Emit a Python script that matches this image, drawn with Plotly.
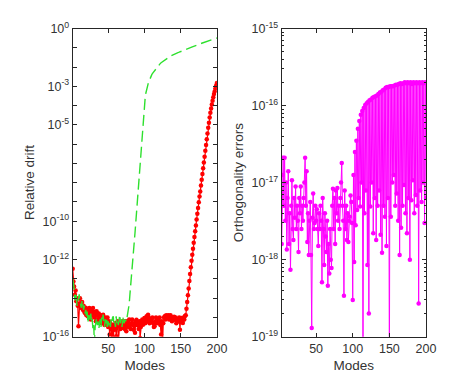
import plotly.graph_objects as go

# ---------------- data ----------------
modes = list(range(1, 201))
ortho_modes = list(range(3, 201))

drift_red = [
    3.4e-13, 7.4e-14, 4.1e-14, 1.5e-14, 2.5e-14, 6.9e-15, 1.0e-14, 4.0e-15, 3.5e-16, 5.0e-15,
    1.0e-14, 3.2e-15, 4.6e-15, 6.3e-15, 2.5e-15, 4.0e-15, 2.0e-15, 1.7e-15, 3.2e-15, 1.3e-15,
    2.5e-15, 1.15e-15, 2.0e-15, 3.1e-15, 1.6e-15, 7.9e-16, 2.5e-15, 1.3e-15, 3.1e-15, 1.6e-15,
    1.0e-15, 2.0e-15, 6.3e-16, 2.1e-15, 1.3e-15, 7.9e-16, 1.6e-15, 6.3e-16, 1.0e-15, 1.3e-15,
    5.0e-16, 1.0e-15, 1.4e-15, 6.3e-16, 4.0e-16, 1.0e-15, 5.0e-16, 7.6e-16, 1.0e-15, 3.2e-16,
    6.3e-16, 1.3e-16, 5.0e-16, 2.5e-16, 4.0e-17, 4.0e-16, 5.0e-17, 3.2e-16, 2.3e-16, 5.0e-16,
    1.05e-16, 3.2e-16, 6.3e-16, 5.0e-17, 4.0e-16, 5.1e-16, 2.5e-16, 5.0e-16, 3.2e-16, 6.3e-16,
    2.8e-16, 5.0e-16, 2.5e-16, 6.3e-16, 1.9e-16, 4.0e-16, 6.3e-16, 3.2e-16, 7.9e-16, 4.2e-16,
    2.5e-16, 5.0e-16, 7.9e-16, 4.0e-16, 2.3e-16, 5.0e-16, 1.6e-16, 6.3e-16, 7.6e-16, 4.0e-16,
    5.0e-16, 2.5e-16, 6.3e-16, 8.5e-17, 3.2e-16, 5.0e-16, 7.9e-16, 4.2e-16, 6.3e-16, 9.3e-16,
    5.0e-16, 7.9e-16, 1.15e-15, 6.3e-16, 1.4e-15, 1.0e-15, 5.0e-16, 7.9e-16, 6.3e-16, 7.6e-16,
    1.0e-15, 5.0e-16, 3.2e-16, 3.5e-16, 6.3e-16, 1.0e-15, 5.0e-16, 7.9e-16, 7.6e-16, 5.0e-16,
    1.0e-15, 4.0e-16, 1.3e-16, 6.3e-16, 4.0e-17, 5.0e-16, 1.0e-15, 1.15e-15, 7.9e-16, 1.3e-15,
    1.0e-15, 1.1e-15, 1.3e-15, 7.9e-16, 1.0e-15, 1.3e-15, 9.3e-16, 6.3e-16, 1.0e-15, 7.9e-16,
    1.1e-15, 7.6e-16, 1.0e-15, 5.0e-16, 7.9e-16, 6.3e-16, 6.3e-16, 1.0e-15, 2.3e-16, 7.9e-16,
    9.3e-16, 6.3e-16, 5.1e-16, 1.0e-15, 7.9e-16, 1.2e-15, 1.3e-15, 2.8e-15, 6.3e-15, 1.4e-14,
    3.2e-14, 7.9e-14, 1.8e-13, 4.0e-13, 8.9e-13, 1.8e-12, 3.7e-12, 7.6e-12, 1.5e-11, 3.0e-11,
    6.0e-11, 1.2e-10, 2.4e-10, 4.8e-10, 9.5e-10, 1.9e-9, 3.5e-9, 7.1e-9, 1.4e-8, 2.8e-8,
    5.6e-8, 1.1e-7, 2.2e-7, 4.5e-7, 8.9e-7, 1.8e-6, 3.5e-6, 7.1e-6, 1.3e-5, 2.4e-5,
    4.2e-5, 7.1e-5, 1.15e-4, 1.8e-4, 2.7e-4, 4.0e-4, 5.6e-4, 7.9e-4, 1.1e-3, 1.5e-3,
]

drift_green = [
    1.0e-13, 6.3e-14, 3.2e-14, 7.9e-15, 2.0e-14, 1.3e-14, 4.0e-15, 5.0e-15, 1.0e-14, 1.6e-14,
    6.3e-15, 3.2e-15, 3.2e-15, 7.9e-15, 5.6e-15, 2.5e-15, 4.0e-15, 1.6e-15, 2.5e-15, 1.0e-15,
    2.0e-15, 5.0e-16, 1.3e-15, 1.15e-15, 6.3e-16, 1.6e-15, 5.0e-16, 7.9e-16, 2.3e-16, 4.0e-16,
    4.7e-17, 3.2e-16, 7.9e-16, 9.3e-16, 4.0e-16, 6.3e-16, 2.5e-16, 4.2e-16, 7.9e-16, 3.2e-16,
    1.0e-15, 6.3e-16, 1.4e-15, 5.0e-16, 3.2e-16, 7.9e-16, 4.0e-16, 7.6e-16, 2.5e-16, 6.3e-16,
    4.0e-16, 6.3e-16, 3.2e-16, 7.9e-16, 5.0e-16, 1.0e-15, 1.15e-15, 4.0e-16, 6.3e-16, 3.2e-16,
    1.15e-15, 5.0e-16, 7.9e-16, 4.0e-16, 1.0e-15, 1.4e-15, 5.0e-16, 7.9e-16, 3.2e-16, 1.0e-15,
    1.15e-15, 5.0e-16, 7.9e-16, 6.3e-16, 1.15e-15, 1.0e-15, 1.6e-15, 2.5e-15, 5.0e-15, 1.6e-14,
    4.0e-14, 1.0e-13, 3.2e-13, 1.0e-12, 2.5e-12, 7.9e-12, 2.5e-11, 7.9e-11, 2.5e-10, 7.9e-10,
    2.5e-9, 7.9e-9, 2.5e-8, 7.9e-8, 3.2e-7, 1.3e-6, 5.0e-6, 1.6e-5, 5.0e-5, 1.3e-4,
    2.5e-4, 4.5e-4, 7.1e-4, 1.0e-3, 1.3e-3, 1.7e-3, 2.2e-3, 2.8e-3, 3.3e-3, 3.9e-3,
    4.6e-3, 5.2e-3, 6.0e-3, 6.8e-3, 7.6e-3, 8.5e-3, 9.5e-3, 1.07e-2, 1.2e-2, 1.35e-2,
    1.45e-2, 1.55e-2, 1.66e-2, 1.78e-2, 1.9e-2, 2.04e-2, 2.19e-2, 2.34e-2, 2.45e-2, 2.63e-2,
    2.75e-2, 2.95e-2, 3.09e-2, 3.31e-2, 3.47e-2, 3.63e-2, 3.89e-2, 4.07e-2, 4.27e-2, 4.47e-2,
    4.6e-2, 4.8e-2, 5.0e-2, 5.1e-2, 5.4e-2, 5.5e-2, 5.8e-2, 5.9e-2, 6.2e-2, 6.4e-2,
    6.6e-2, 6.8e-2, 7.1e-2, 7.3e-2, 7.6e-2, 7.9e-2, 8.1e-2, 8.4e-2, 8.7e-2, 9.0e-2,
    9.3e-2, 9.7e-2, 0.100, 0.1035, 0.107, 0.111, 0.115, 0.120, 0.124, 0.128,
    0.132, 0.137, 0.141, 0.146, 0.151, 0.156, 0.161, 0.166, 0.171, 0.177,
    0.183, 0.189, 0.195, 0.201, 0.208, 0.215, 0.222, 0.229, 0.237, 0.244,
    0.252, 0.261, 0.269, 0.277, 0.284, 0.292, 0.301, 0.309, 0.316, 0.324,
]

ortho_err = [
    1.6e-18, 1.26e-17, 2.1e-17, 5.0e-18, 2.1e-17, 3.2e-18, 1.0e-17, 1.35e-18,
    6.3e-18, 1.4e-17, 1.6e-18, 4.0e-18, 7.4e-19, 5.0e-18, 1.07e-17, 2.5e-18, 1.8e-18, 6.3e-18,
    3.5e-18, 8.9e-18, 2.5e-18, 5.0e-18, 3.2e-18, 1.26e-18, 6.3e-18, 4.0e-18, 8.9e-18, 2.5e-18,
    5.0e-18, 3.2e-18, 6.3e-18, 1.0e-17, 2.1e-17, 5.0e-18, 1.4e-17, 1.7e-18, 4.0e-18, 1.15e-18,
    3.2e-18, 5.6e-18, 1.15e-18, 1.3e-19, 3.5e-18, 7.2e-18, 2.5e-18, 3.0e-18, 5.0e-18, 3.2e-18,
    4.5e-18, 2.5e-18, 1.5e-18, 4.0e-18, 2.5e-18, 5.0e-18, 3.2e-18, 5.1e-19, 6.3e-18, 2.5e-18,
    8.5e-19, 4.0e-18, 2.0e-18, 1.26e-18, 3.2e-18, 4.6e-19, 1.6e-18, 6.6e-19, 2.5e-18, 1.0e-18,
    7.8e-19, 5.0e-18, 8.3e-18, 2.5e-18, 6.3e-18, 1.6e-18, 7.9e-18, 4.0e-18, 8.5e-18, 3.2e-18,
    5.0e-18, 2.5e-18, 6.3e-18, 1.0e-17, 1.8e-17, 5.0e-18, 3.2e-18, 3.4e-19, 7.9e-18, 2.5e-18,
    5.0e-18, 1.8e-18, 4.0e-18, 1.7e-18, 3.2e-18, 3.6e-18, 6.8e-18, 5.6e-18, 3.0e-18, 3.0e-19,
    1.26e-17, 9.3e-19, 2.5e-17, 2.8e-18, 3.5e-17, 4.4e-18, 5.0e-17, 6.3e-18, 6.3e-17, 4.9e-18,
    7.6e-17, 1.0e-17, 8.5e-17, 3.2e-20, 9.3e-17, 4.0e-18, 1.02e-16, 7.9e-18, 1.07e-16, 8.5e-19,
    1.12e-16, 2.0e-19, 1.17e-16, 4.9e-18, 1.2e-16, 1.0e-17, 1.26e-16, 2.2e-18, 1.29e-16, 6.3e-18,
    1.32e-16, 1.8e-18, 1.35e-16, 5.0e-18, 1.41e-16, 7.9e-18, 1.48e-16, 2.1e-18, 1.51e-16, 1.23e-18,
    1.58e-16, 5.0e-18, 1.62e-16, 3.6e-18, 1.7e-16, 1.5e-18, 1.74e-16, 6.3e-18, 1.74e-16, 3.2e-20,
    1.78e-16, 3.6e-18, 1.78e-16, 1.0e-17, 1.78e-16, 1.26e-17, 1.82e-16, 5.0e-18, 1.86e-16, 7.2e-18,
    1.86e-16, 3.2e-18, 1.9e-16, 1.15e-18, 1.95e-16, 2.6e-18, 1.9e-16, 5.0e-18, 1.95e-16, 9.3e-18,
    2.0e-16, 4.0e-18, 1.95e-16, 2.2e-18, 2.0e-16, 6.3e-18, 1.95e-16, 1.0e-18, 2.0e-16, 5.9e-18,
    1.9e-16, 1.07e-17, 2.0e-16, 4.0e-18, 1.95e-16, 6.9e-18, 2.0e-16, 5.0e-18, 1.95e-16, 2.7e-19,
    2.0e-16, 7.9e-18, 1.95e-16, 5.6e-18, 2.0e-16, 1.0e-17, 1.95e-16, 3.0e-18, 2.0e-16, 6.3e-18,
]

left_ytickvals = [1e0, 1e-3, 1e-5, 1e-10, 1e-12, 1e-16]
left_yticktext = ["10<sup>0</sup>", "10<sup>-3</sup>", "10<sup>-5</sup>",
                  "10<sup>-10</sup>", "10<sup>-12</sup>", "10<sup>-16</sup>"]
left_yminorvals = [1e-1, 1e-2, 1e-4, 1e-6, 1e-7, 1e-8, 1e-9, 1e-11, 1e-13, 1e-14, 1e-15]
right_ytickvals = [1e-15, 1e-16, 1e-17, 1e-18, 1e-19]
right_yticktext = ["10<sup>-15</sup>", "10<sup>-16</sup>", "10<sup>-17</sup>",
                   "10<sup>-18</sup>", "10<sup>-19</sup>"]
xtickvals = [50, 100, 150, 200]

# ---------------- figure ----------------
FONT = "Liberation Sans, Arial, Helvetica, sans-serif"
TXT = "#333333"
AX = "#262626"

fig = go.Figure()

fig.add_trace(go.Scatter(
    x=modes, y=drift_red, mode="lines+markers",
    line=dict(color="#ff0000", width=1.2),
    marker=dict(color="#ff0000", size=4.5, symbol="circle"),
    xaxis="x", yaxis="y", showlegend=False,
))
fig.add_trace(go.Scatter(
    x=modes, y=drift_green, mode="lines",
    line=dict(color="#2ee02e", width=1.4, dash="11px,5px"),
    xaxis="x", yaxis="y", showlegend=False,
))
fig.add_trace(go.Scatter(
    x=ortho_modes, y=ortho_err, mode="lines+markers",
    line=dict(color="#ff00ff", width=1),
    marker=dict(color="#ff00ff", size=4.5, symbol="circle"),
    xaxis="x2", yaxis="y2", showlegend=False,
))

right_minor = []
for e in range(-19, -15):
    for k in range(2, 10):
        right_minor.append(k * 10.0 ** e)

axis_common = dict(
    showline=True, linecolor=AX, linewidth=1, mirror="allticks",
    ticks="inside", ticklen=4, tickcolor=AX, tickwidth=1,
    showgrid=False, zeroline=False, automargin=False,
    tickfont=dict(family=FONT, size=12.5, color=TXT),
)
title_font = dict(family=FONT, size=13.5, color=TXT)

# page body adds an 8px offset, so the figure is 466x371 placed at (8, 8)
fig.update_layout(
    width=466, height=371,
    margin=dict(l=0, r=0, t=0, b=0),
    paper_bgcolor="white", plot_bgcolor="white",
    font=dict(family=FONT, size=12, color=TXT),
    xaxis=dict(domain=[0.1388, 0.4483], range=[1, 200], tickvals=xtickvals,
               title=dict(text="Modes", font=title_font, standoff=5),
               anchor="y", **axis_common),
    yaxis=dict(domain=[0.1140, 0.9447], type="log", range=[-16, 0],
               tickvals=left_ytickvals, ticktext=left_yticktext,
               minor=dict(ticks="inside", ticklen=4, tickcolor=AX, tickvals=left_yminorvals),
               title=dict(text="Relative drift", font=title_font, standoff=4),
               anchor="x", **axis_common),
    xaxis2=dict(domain=[0.5873, 0.8970], range=[3, 200], tickvals=xtickvals,
                title=dict(text="Modes", font=title_font, standoff=5),
                anchor="y2", **axis_common),
    yaxis2=dict(domain=[0.1140, 0.9447], type="log", range=[-19, -15],
                tickvals=right_ytickvals, ticktext=right_yticktext,
                minor=dict(ticks="inside", ticklen=2, tickcolor=AX, tickvals=right_minor),
                title=dict(text="Orthogonality errors", font=title_font, standoff=4),
                anchor="x2", **axis_common),
)

fig.write_html("out.html")
